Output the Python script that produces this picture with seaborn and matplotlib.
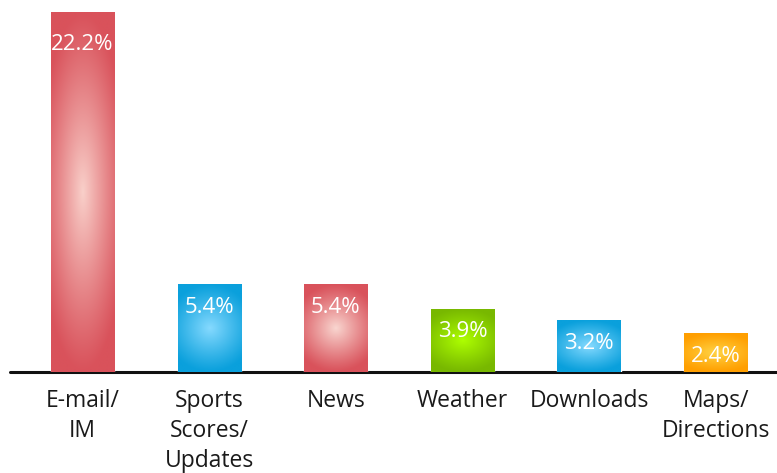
import numpy as np
import matplotlib
matplotlib.use("Agg")
import matplotlib.pyplot as plt
import matplotlib.colors as mcolors
import seaborn as sns

categories = ["E-mail/\nIM", "Sports\nScores/\nUpdates", "News", "Weather", "Downloads", "Maps/\nDirections"]
values = [22.2, 5.4, 5.4, 3.9, 3.2, 2.4]
value_labels = ["22.2%", "5.4%", "5.4%", "3.9%", "3.2%", "2.4%"]

edge_colors = ["#D9525B", "#0AA0DC", "#D9525B", "#78B800", "#0AA0DC", "#FF9F00"]
center_colors = ["#F9D0CA", "#86DAFF", "#F9D6D0", "#AEFF00", "#86DAFF", "#FFD445"]

sns.set_theme(style="white")
plt.rcParams["font.family"] = ["Open Sans", "DejaVu Sans"]

fig = plt.figure(figsize=(7.77, 4.73), dpi=100)
ax = fig.add_axes([10 / 777, 101 / 473, 767 / 777, 372 / 473])

palette = dict(zip(categories, edge_colors))
sns.barplot(x=categories, y=values, hue=categories, palette=palette, legend=False,
            width=0.5, saturation=1, ax=ax, zorder=2)

# radial gradient fill clipped to each bar
patches = sorted(ax.patches, key=lambda p: p.get_x())
n = 200
u = np.linspace(-1, 1, n)
U, V = np.meshgrid(u, u)
for p, ec, cc in zip(patches, edge_colors, center_colors):
    x, y, w, h = p.get_x(), p.get_y(), p.get_width(), p.get_height()
    r = np.sqrt((U * 0.72) ** 2 + V ** 2)
    t = np.clip(1 - r, 0, 1) ** 1.1
    e = np.array(mcolors.to_rgb(ec))
    c = np.array(mcolors.to_rgb(cc))
    img = e[None, None, :] + (c - e)[None, None, :] * t[..., None]
    im = ax.imshow(img, extent=(x, x + w, y, y + h), origin="lower",
                   aspect="auto", interpolation="bilinear", zorder=3)
    im.set_clip_path(p)
ax.set_xlim(-0.5735, 5.485)
ax.set_ylim(0, 22.94)

# value labels
for i, (v, lab) in enumerate(zip(values, value_labels)):
    ax.annotate(lab, xy=(i, min(v, 21.6)), xytext=(0, -9), textcoords="offset points",
                ha="center", va="top", color="white", fontsize=16,
                zorder=5)

# baseline
ax.axhline(0, color="#111111", lw=2.2, zorder=1, clip_on=False)
for s in ax.spines.values():
    s.set_visible(False)

ax.set_yticks([])
ax.set_xlabel("")
ax.set_ylabel("")
ax.tick_params(axis="x", length=0, pad=12, labelsize=16.5, labelcolor="#1a1a1a")
for t in ax.get_xticklabels():
    t.set_linespacing(1.34)

fig.savefig("out.png", dpi=100)
